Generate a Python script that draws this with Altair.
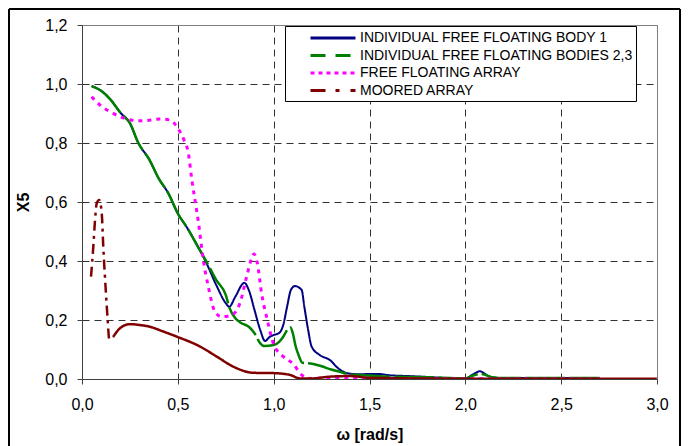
import altair as alt
import pandas as pd

# ---------------- data ----------------
names = [
    "INDIVIDUAL FREE FLOATING BODY 1",
    "INDIVIDUAL FREE FLOATING BODIES 2,3",
    "FREE FLOATING ARRAY",
    "MOORED ARRAY",
]
colors = ["#000080", "#008000", "#FF00FF", "#800000"]
legend_dashes = [[1, 0], [15, 10], [4, 4], [15, 10, 4, 11]]

w_body1 = [0.05, 0.10, 0.15, 0.20, 0.25, 0.294, 0.35, 0.40, 0.45, 0.50, 0.55, 0.60,
           0.65, 0.70, 0.75, 0.768, 0.80, 0.847, 0.87, 0.90, 0.93, 0.955, 0.98, 1.00,
           1.03, 1.05, 1.07, 1.09, 1.111, 1.146, 1.16, 1.18, 1.198, 1.241, 1.294, 1.337,
           1.389, 1.45, 1.50, 1.55, 1.60, 1.70, 1.80, 1.90, 2.00, 2.04, 2.076, 2.12,
           2.16, 2.20, 2.50, 2.70]
x5_body1 = [0.993, 0.977, 0.946, 0.903, 0.867, 0.80, 0.745, 0.68, 0.63, 0.561, 0.511, 0.454,
            0.392, 0.319, 0.257, 0.245, 0.279, 0.326, 0.302, 0.234, 0.166, 0.129, 0.143, 0.149,
            0.157, 0.183, 0.245, 0.302, 0.315, 0.302, 0.245, 0.166, 0.11, 0.081, 0.064, 0.036,
            0.019, 0.016, 0.017, 0.017, 0.013, 0.010, 0.007, 0.003, 0.001, 0.016, 0.026, 0.010,
            0.004, 0.003, 0.003, 0.003]

w_bodies23 = [0.05, 0.10, 0.15, 0.20, 0.25, 0.294, 0.35, 0.40, 0.45, 0.50, 0.55, 0.60,
              0.65, 0.70, 0.75, 0.77, 0.80, 0.83, 0.87, 0.90, 0.93, 0.95, 1.00, 1.03,
              1.05, 1.07, 1.088, 1.10, 1.115, 1.13, 1.15, 1.20, 1.25, 1.30, 1.35, 1.40,
              1.50, 1.60, 1.80, 2.00, 2.04, 2.08, 2.15, 2.20, 2.70]
x5_bodies23 = [0.993, 0.977, 0.946, 0.903, 0.867, 0.80, 0.745, 0.68, 0.63, 0.561, 0.511, 0.454,
               0.397, 0.336, 0.285, 0.24, 0.206, 0.19, 0.177, 0.155, 0.121, 0.112, 0.115, 0.127,
               0.143, 0.166, 0.175, 0.155, 0.11, 0.081, 0.055, 0.052, 0.043, 0.032, 0.024, 0.015,
               0.012, 0.008, 0.006, 0.002, 0.012, 0.017, 0.005, 0.003, 0.003]

w_array = [0.05, 0.10, 0.155, 0.207, 0.25, 0.294, 0.33, 0.407, 0.459, 0.497, 0.532, 0.555,
           0.572, 0.595, 0.607, 0.633, 0.659, 0.694, 0.729, 0.781, 0.824, 0.859, 0.885, 0.897,
           0.915, 0.937, 0.967, 0.998, 1.05, 1.102, 1.146, 1.19, 1.30, 1.40, 1.50, 2.00, 2.70]
x5_array = [0.957, 0.925, 0.903, 0.887, 0.879, 0.875, 0.876, 0.881, 0.878, 0.853, 0.81, 0.765,
            0.68, 0.584, 0.533, 0.403, 0.313, 0.228, 0.211, 0.217, 0.257, 0.347, 0.409, 0.424,
            0.392, 0.29, 0.20, 0.121, 0.076, 0.051, 0.014, 0.002, 0.005, 0.004, 0.002, 0.001, 0.001]

w_moored = [0.047, 0.059, 0.068, 0.077, 0.09, 0.103, 0.111, 0.125, 0.134, 0.142, 0.163, 0.198,
            0.25, 0.302, 0.355, 0.42, 0.497, 0.616, 0.703, 0.789, 0.894, 0.998, 1.085, 1.137,
            1.20, 1.294, 1.398, 1.50, 2.00, 2.50, 3.00]
x5_moored = [0.347, 0.449, 0.539, 0.596, 0.607, 0.562, 0.449, 0.29, 0.20, 0.135, 0.143, 0.172,
             0.186, 0.183, 0.177, 0.162, 0.143, 0.11, 0.076, 0.042, 0.021, 0.02, 0.014, 0.002,
             0.002, 0.008, 0.010, 0.004, 0.001, 0.001, 0.001]

x_ticks = [0.0, 0.5, 1.0, 1.5, 2.0, 2.5, 3.0]
y_ticks = [0.0, 0.2, 0.4, 0.6, 0.8, 1.0, 1.2]

series = [(w_body1, x5_body1), (w_bodies23, x5_bodies23), (w_array, x5_array), (w_moored, x5_moored)]
rows = []
for name, (ws, vs) in zip(names, series):
    for i, (w, v) in enumerate(zip(ws, vs)):
        rows.append({"series": name, "w": w, "x5": v, "i": i})
df = pd.DataFrame(rows)

FONT = "Liberation Sans"

legend = alt.Legend(
    title=None,
    orient="none",
    legendX=203,
    legendY=1,
    symbolType="M-3,0H3",
    symbolSize=225,
    symbolStrokeWidth=3,
    symbolFillColor="transparent",
    symbolOffset=36,
    labelOffset=18,
    padding=3,
    rowPadding=1.5,
    labelFont=FONT,
    labelFontSize=14,
    labelColor="#000000",
    labelLimit=400,
    strokeColor="#000000",
    fillColor="#ffffff",
)
color_scale = alt.Scale(domain=names, range=colors)
dash_scale = alt.Scale(domain=names, range=legend_dashes)

x_enc = alt.X(
    "w:Q",
    scale=alt.Scale(domain=[0, 3], nice=False),
    axis=alt.Axis(
        values=x_ticks,
        title="ω [rad/s]",
        labelFlush=False,
        labelExpr="replace(format(datum.value, '.1f'), '.', ',')",
    ),
)
y_enc = alt.Y(
    "x5:Q",
    scale=alt.Scale(domain=[0, 1.2], nice=False),
    axis=alt.Axis(
        values=y_ticks,
        title="X5",
        labelFlush=False,
        labelExpr="replace(format(datum.value, '.1f'), '.', ',')",
    ),
)


def line(name, width, dash, extra_filter=None):
    c = alt.Chart(df).transform_filter(alt.datum.series == name)
    if extra_filter is not None:
        c = c.transform_filter(extra_filter)
    return c.mark_line(
        strokeWidth=width, strokeDash=dash, interpolate="monotone", clip=True
    ).encode(
        x=x_enc,
        y=y_enc,
        color=alt.Color("series:N", scale=color_scale, legend=legend),
        order="i:Q",
    )


# legend-only layer (no rows) so that legend symbols carry the dash styles
legend_layer = (
    alt.Chart(df)
    .transform_filter("false")
    .mark_line()
    .encode(
        x=x_enc,
        y=y_enc,
        color=alt.Color("series:N", scale=color_scale, legend=legend),
        strokeDash=alt.StrokeDash("series:N", scale=dash_scale, legend=legend),
    )
)

frame = alt.Chart(df).mark_rect(fill=None, stroke="#000000", strokeWidth=1).encode(
    x=alt.value(-73), x2=alt.value(598), y=alt.value(-16), y2=alt.value(440)
)

layers = [
    line(names[0], 2.0, [1, 0]),
    line(names[1], 2.5, [40, 4]),
    line(names[2], 3.0, [4, 5]),
    line(names[3], 2.5, [10, 5, 3, 5], alt.datum.i <= 10),
    line(names[3], 2.5, [1, 0], alt.datum.i >= 10),
]

chart = (
    alt.layer(frame, legend_layer, *layers)
    .properties(
        width=575,
        height=354,
        autosize=alt.AutoSizeParams(type="none"),
        padding={"left": 82, "top": 25, "right": 34, "bottom": 67},
        background="#ffffff",
    )
    .configure_view(stroke="#808080", strokeWidth=1)
    .configure_axis(
        labelFont=FONT,
        labelFontSize=16,
        labelColor="#000000",
        titleFont=FONT,
        titleFontSize=16,
        titleFontWeight="bold",
        titleColor="#000000",
        domainColor="#404040",
        domainWidth=1,
        tickColor="#404040",
        tickSize=5,
        gridColor={"condition": {"test": "datum.value >= 1.19 && datum.value <= 1.21 || datum.value >= 2.99", "value": "#808080"}, "value": "#333333"},
        gridDash={"condition": {"test": "datum.value >= 1.19 && datum.value <= 1.21 || datum.value >= 2.99", "value": []}, "value": [7, 5]},
        gridWidth=1,
    )
    .configure_axisX(labelPadding=12, titlePadding=14)
    .configure_axisY(labelPadding=10, titlePadding=13)
)

chart.save("out.html", embed_options={"renderer": "svg", "actions": False})
